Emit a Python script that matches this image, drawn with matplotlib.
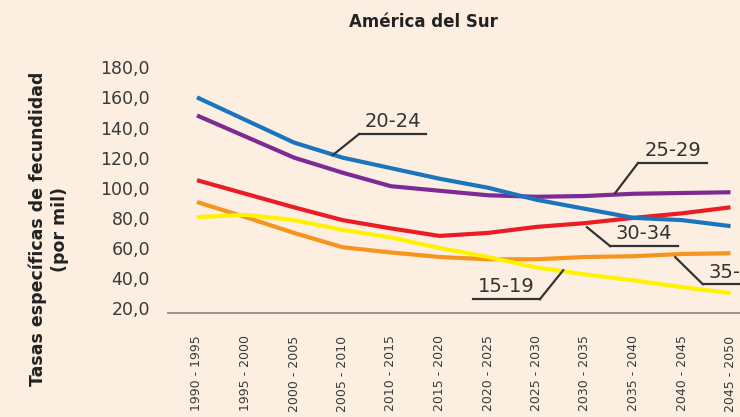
import matplotlib
matplotlib.use("Agg")
import matplotlib.pyplot as plt
import numpy as np

periods = ["1990 - 1995", "1995 - 2000", "2000 - 2005", "2005 - 2010",
           "2010 - 2015", "2015 - 2020", "2020 - 2025", "2025 - 2030",
           "2030 - 2035", "2035 - 2040", "2040 - 2045", "2045 - 2050"]

g15_19 = [80.5, 82.0, 78.5, 72.0, 67.0, 60.0, 54.0, 47.0, 42.5, 38.5, 34.0, 30.0]
g20_24 = [160.0, 145.0, 130.0, 120.0, 113.0, 106.0, 100.0, 92.0, 86.0, 80.0, 78.5, 74.5]
g25_29 = [148.0, 134.0, 120.0, 110.0, 101.0, 98.0, 95.0, 94.0, 94.5, 96.0, 96.5, 97.0]
g30_34 = [105.0, 96.0, 87.0, 78.5, 73.0, 68.0, 70.0, 74.0, 76.5, 80.0, 83.0, 87.0]
g35_39 = [90.5, 80.5, 70.0, 60.5, 57.0, 54.0, 52.5, 52.5, 54.0, 54.5, 56.0, 56.5]

yticks = [20, 40, 60, 80, 100, 120, 140, 160, 180]

bg = "#fcefe2"
txt = "#3a3a3a"

fig = plt.figure(figsize=(7.4, 4.17), dpi=100, facecolor=bg)
ax = fig.add_axes([0.0, 0.249, 1.0, 0.607])
ax.set_facecolor(bg)

x = np.arange(len(periods))
# draw order so the crossing lines overlap like the reference
style = dict(lw=3.0, solid_capstyle="butt", solid_joinstyle="round")
ax.plot(x, g35_39, color="#f7941d", **style)
ax.plot(x, g15_19, color="#fff200", **style)
ax.plot(x, g30_34, color="#ec1c24", **style)
ax.plot(x, g25_29, color="#7d2b92", **style)
ax.plot(x, g20_24, color="#1b75bc", **style)

# limits from the pixel layout: left edge at 168px, right edge cut at 740px
ax.set_xlim((0 - 197) / 48.5, (740 - 197) / 48.5)
ax.set_ylim(16.7, 184.8)

ax.set_xticks(x)
ax.set_xticklabels(periods, rotation=90, fontsize=9, color=txt,
                   family=["Liberation Sans Narrow", "DejaVu Sans"])
ax.tick_params(axis="x", length=0, pad=16)
ax.set_yticks(yticks)
ax.set_yticklabels([f"{v:.1f}".replace(".", ",") for v in yticks],
                   fontsize=12.5, color=txt)
ax.tick_params(axis="y", length=0, pad=0)
for lab in ax.get_yticklabels():
    lab.set_horizontalalignment("right")
    lab.set_x(150 / 740)

for s in ["top", "right", "left"]:
    ax.spines[s].set_visible(False)
ax.spines["bottom"].set_color("#8c8c8c")
ax.spines["bottom"].set_linewidth(1.3)
ax.spines["bottom"].set_bounds((168 - 197) / 48.5, (740 - 197) / 48.5)

fig.text(423 / 740, 1 - 22 / 417, "América del Sur", ha="center", va="center",
         fontsize=12, fontweight="bold", color="#222222")
fig.text(38 / 740, 1 - 229 / 417, "Tasas específicas de fecundidad",
         rotation=90, ha="center", va="center", fontsize=12.5,
         fontweight="bold", color="#222222")
fig.text(60 / 740, 1 - 229 / 417, "(por mil)",
         rotation=90, ha="center", va="center", fontsize=12.5,
         fontweight="bold", color="#222222")

# callouts: label, underline x0..x1 at y, leader end point, leader from left end?
callouts = [
    ("20-24", 3.34, 4.72, 135.6, 2.80, 121.7, True),
    ("25-29", 9.09, 10.52, 116.3, 8.62, 96.4, True),
    ("30-34", 8.52, 9.92, 61.2, 8.04, 73.8, True),
    ("15-19", 5.69, 7.07, 26.0, 7.55, 45.2, False),
    ("35-39", 10.43, 11.84, 35.9, 9.86, 53.9, True),
]
for label, x0, x1, yu, xe, ye, left in callouts:
    ax.plot([x0, x1], [yu, yu], color="#333333", lw=1.6, clip_on=False)
    xs = x0 if left else x1
    ax.plot([xs, xe], [yu, ye], color="#333333", lw=1.6, clip_on=False)
    ax.text((x0 + x1) / 2, yu + 1.8, label, ha="center", va="bottom",
            fontsize=14, color="#333333", clip_on=False)

fig.savefig("out.png", dpi=100, facecolor=bg)
